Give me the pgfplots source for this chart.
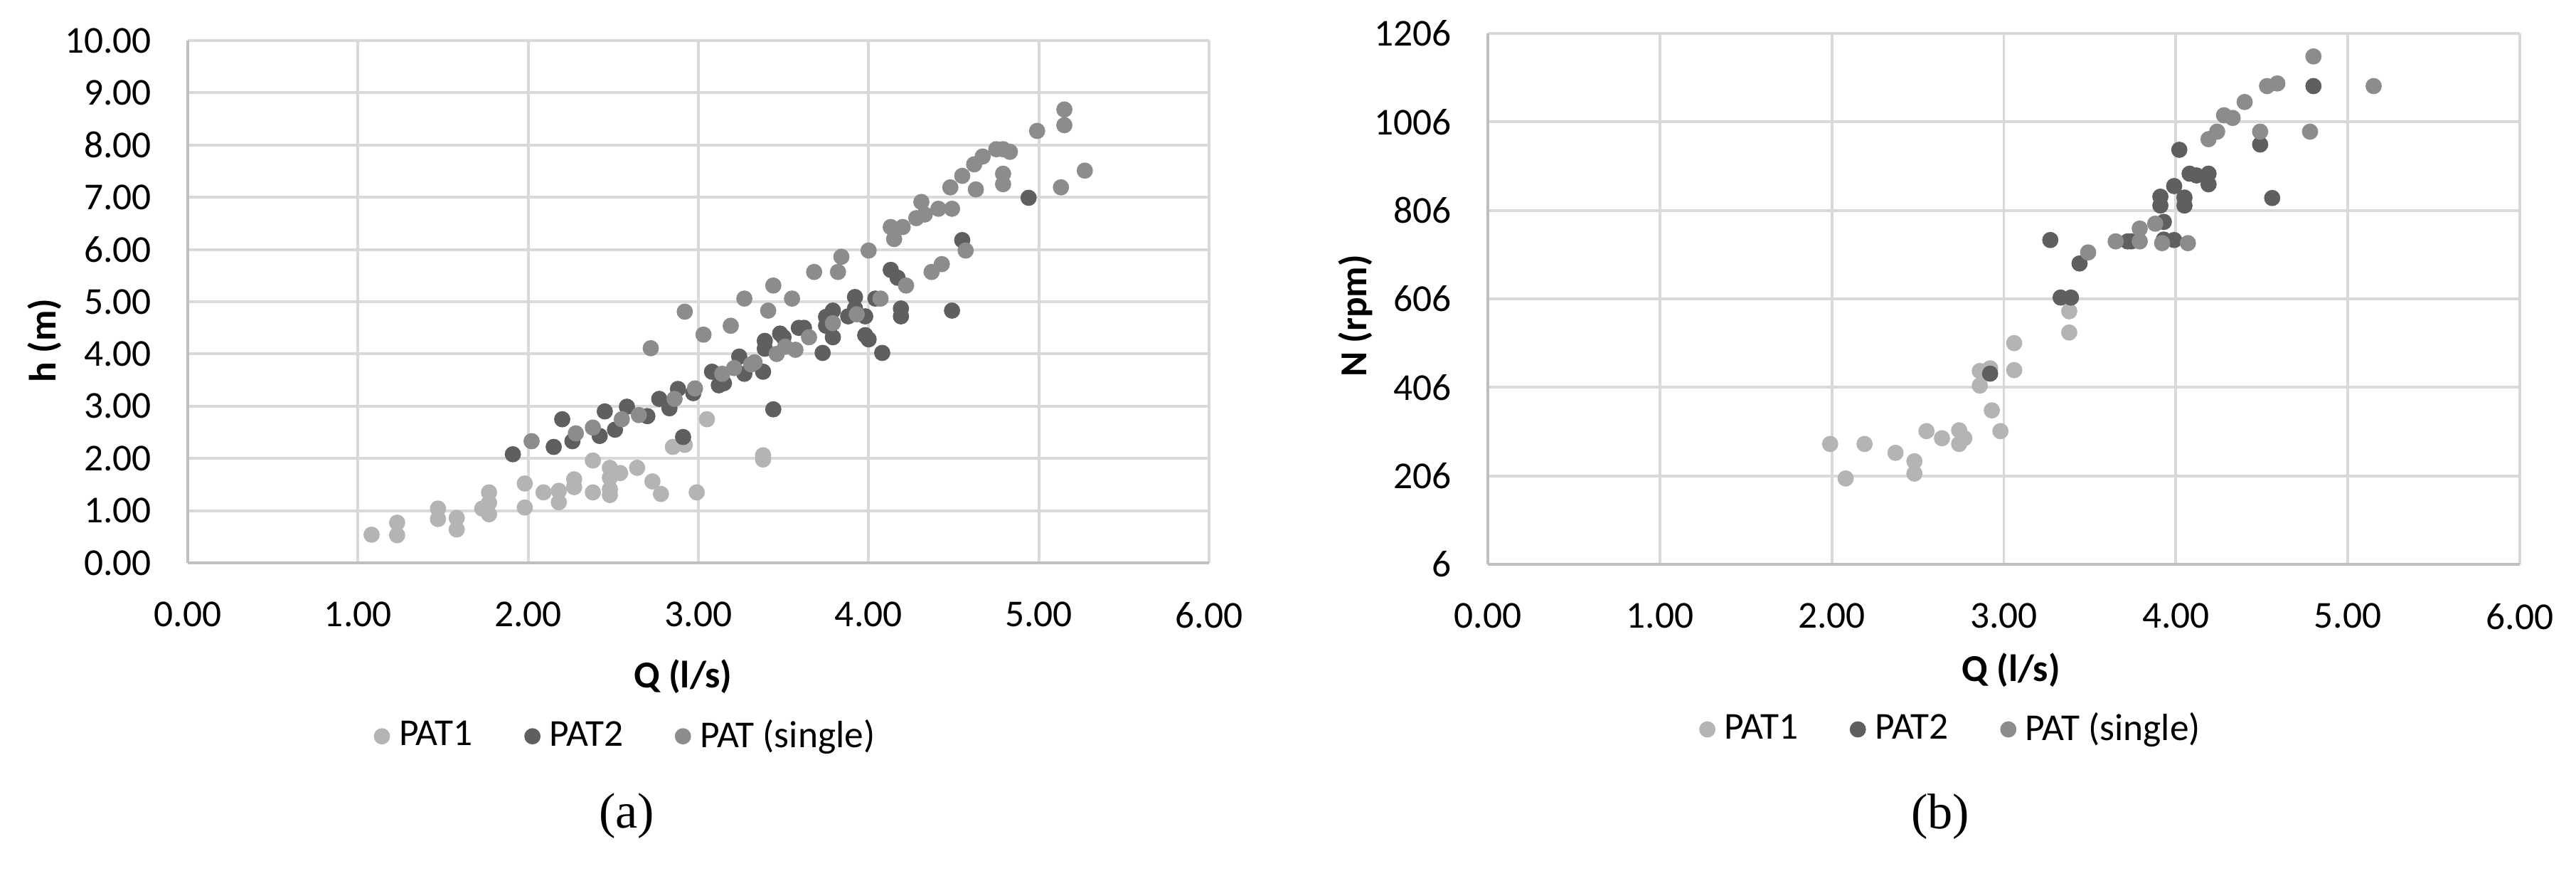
\documentclass[border=0pt]{standalone}
\usepackage{fontspec}
\setmainfont{Carlito}
\newfontfamily\capfont{Liberation Serif}
\usepackage{pgfplots}
\pgfplotsset{compat=1.18}

\definecolor{patA}{RGB}{180,180,180}
\definecolor{patB}{RGB}{95,95,95}
\definecolor{patC}{RGB}{140,140,140}
\definecolor{gridc}{RGB}{217,217,217}
\definecolor{axc}{RGB}{191,191,191}

% PAT1 / PAT2 / PAT (single): Q (l/s) vs h (m)
\pgfplotstableread{
x y
1.08 0.54
1.23 0.77
1.23 0.53
1.47 1.04
1.47 0.84
1.58 0.86
1.58 0.64
1.73 1.04
1.77 1.35
1.77 1.15
1.77 0.93
1.98 1.52
1.98 1.06
2.09 1.35
2.18 1.38
2.18 1.16
2.27 1.60
2.27 1.45
2.38 1.96
2.38 1.35
2.48 1.82
2.48 1.63
2.48 1.41
2.48 1.30
2.54 1.72
2.64 1.82
2.73 1.56
2.78 1.32
2.85 2.22
2.92 2.26
2.99 1.35
3.05 2.75
3.38 2.06
3.38 1.98
}\hA
\pgfplotstableread{
x y
1.91 2.08
2.15 2.22
2.20 2.75
2.26 2.33
2.42 2.43
2.45 2.90
2.51 2.55
2.58 2.99
2.70 2.81
2.77 3.14
2.83 2.96
2.88 3.33
2.91 2.41
2.97 3.25
3.08 3.66
3.12 3.40
3.15 3.44
3.24 3.95
3.27 3.62
3.38 3.66
3.39 4.25
3.39 4.10
3.44 2.94
3.48 4.39
3.50 4.32
3.59 4.50
3.62 4.50
3.73 4.02
3.75 4.71
3.75 4.54
3.79 4.83
3.79 4.32
3.88 4.72
3.92 5.09
3.92 4.87
3.98 4.72
3.98 4.36
4.00 4.28
4.04 5.06
4.08 4.02
4.13 5.61
4.17 5.46
4.19 4.87
4.19 4.72
4.49 4.83
4.55 6.18
4.94 6.99
}\hB
\pgfplotstableread{
x y
2.02 2.33
2.28 2.48
2.38 2.59
2.55 2.75
2.65 2.83
2.72 4.11
2.86 3.14
2.92 4.81
2.98 3.34
3.03 4.37
3.14 3.62
3.19 4.54
3.21 3.73
3.27 5.06
3.31 3.80
3.33 3.84
3.41 4.83
3.44 5.31
3.46 4.00
3.51 4.14
3.55 5.06
3.57 4.08
3.65 4.32
3.68 5.57
3.79 4.59
3.82 5.57
3.84 5.86
3.93 4.76
4.00 5.98
4.07 5.06
4.13 6.43
4.15 6.20
4.20 6.43
4.22 5.31
4.28 6.60
4.31 6.91
4.33 6.67
4.37 5.57
4.41 6.78
4.43 5.72
4.48 7.19
4.49 6.78
4.55 7.41
4.57 5.98
4.62 7.63
4.63 7.15
4.67 7.78
4.75 7.92
4.79 7.92
4.79 7.45
4.79 7.25
4.83 7.87
4.99 8.27
5.13 7.19
5.15 8.38
5.15 8.68
5.27 7.51
}\hC

% Q (l/s) vs N (rpm)
\pgfplotstableread{
x y
1.99 278
2.08 200
2.19 278
2.37 258
2.48 239
2.48 211
2.55 307
2.64 291
2.74 309
2.74 278
2.77 291
2.86 443
2.86 410
2.92 449
2.93 354
2.98 307
3.06 445
3.06 506
3.38 530
3.38 578
}\nA
\pgfplotstableread{
x y
2.92 437
3.27 739
3.33 609
3.39 609
3.44 686
3.72 736
3.74 736
3.91 837
3.91 817
3.93 780
3.93 740
3.99 861
3.99 739
4.02 943
4.05 835
4.05 817
4.08 889
4.12 885
4.19 889
4.19 865
4.49 955
4.56 834
4.80 1087
}\nB
\pgfplotstableread{
x y
3.49 711
3.65 736
3.79 736
3.79 765
3.88 776
3.92 732
4.07 732
4.19 967
4.24 984
4.28 1021
4.33 1015
4.40 1051
4.49 984
4.53 1087
4.59 1093
4.78 984
4.80 1154
5.15 1087
}\nC

\pgfplotsset{
  patplot/.style={
    scale only axis,
    anchor=south west,
    axis x line*=bottom, axis y line*=left,
    axis line style={draw=axc, line width=0.65pt, -},
    grid=major,
    major grid style={draw=gridc, line width=0.55pt},
    major tick length=0pt,
    xmin=0, xmax=6, xtick={0,1,...,6},
    /pgf/number format/assume math mode=true,
    /pgf/number format/1000 sep={},
    xticklabel style={/pgf/number format/.cd, fixed, fixed zerofill, precision=2, /tikz/.cd, yshift=-0.18cm},
    yticklabel style={xshift=-0.16cm},
    label style={font=\bfseries},
    legend columns=3,
    legend cell align=left,
    legend image code/.code={\draw[mark repeat=2,mark phase=2,##1] plot coordinates {(0cm,0cm) (0.08cm,0cm) (0.16cm,0cm)};},
    legend style={draw=none, fill=none, anchor=center, inner sep=0pt,
      /tikz/every even column/.append style={column sep=0.3cm}},
  },
  patmark/.style={only marks, mark=*, mark size=1.42pt, mark options={draw=none, fill=#1}, color=#1},
}

\begin{document}
\fontsize{7.6pt}{9pt}\selectfont
\begin{tikzpicture}
\path[use as bounding box] (0,0) rectangle (18.11cm,6.115cm);

\begin{axis}[patplot,
  at={(1.32cm,2.16cm)}, width=7.18cm, height=3.67cm,
  ymin=0, ymax=10, ytick={0,1,...,10},
  yticklabel style={/pgf/number format/.cd, fixed, fixed zerofill, precision=2},
  xlabel={Q (l/s)}, ylabel={h (m)},
  xlabel style={at={(axis description cs:0.485,-0.217)}, anchor=center},
  ylabel style={at={(axis description cs:-0.140,0.426)}, anchor=center},
  legend style={at={(0.433,-0.332)}},
]
\addplot[patmark=patA] table {\hA};
\addlegendentry{PAT1}
\addplot[patmark=patB] table {\hB};
\addlegendentry{PAT2}
\addplot[patmark=patC] table {\hC};
\addlegendentry{PAT (single)}
\end{axis}

\begin{axis}[patplot,
  at={(10.46cm,2.15cm)}, width=7.255cm, height=3.73cm,
  ymin=6, ymax=1206, ytick={6,206,406,606,806,1006,1206},
  yticklabel style={/pgf/number format/.cd, fixed, precision=0},
  xlabel={Q (l/s)}, ylabel={N (rpm)},
  xlabel style={at={(axis description cs:0.507,-0.200)}, anchor=center},
  ylabel style={at={(axis description cs:-0.128,0.468)}, anchor=center},
  legend style={at={(0.453,-0.311)}},
]
\addplot[patmark=patA] table {\nA};
\addlegendentry{PAT1}
\addplot[patmark=patB] table {\nB};
\addlegendentry{PAT2}
\addplot[patmark=patC] table {\nC};
\addlegendentry{PAT (single)}
\end{axis}

\node[font=\capfont\fontsize{10pt}{12pt}\selectfont] at (4.405cm,0.38cm) {(a)};
\node[font=\capfont\fontsize{10pt}{12pt}\selectfont] at (13.64cm,0.375cm) {(b)};
\end{tikzpicture}
\end{document}
